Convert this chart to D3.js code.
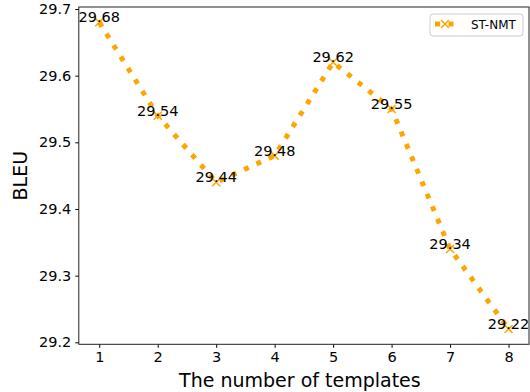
<!DOCTYPE html>
<html>
<head>
<meta charset="utf-8">
<script src="https://cdn.jsdelivr.net/npm/d3@7"></script>
<style>
  body { margin: 0; background: #fff; }
  #chart { width: 530px; height: 392px; }
  text { font-family: "DejaVu Sans", sans-serif; fill: #000; }
</style>
</head>
<body>
<div id="chart"></div>
<script>
// data
const templates = [1, 2, 3, 4, 5, 6, 7, 8];
const bleu = [29.68, 29.54, 29.44, 29.48, 29.62, 29.55, 29.34, 29.22];
const yTicks = [29.2, 29.3, 29.4, 29.5, 29.6, 29.7];
const seriesName = "ST-NMT";
const color = "#FFA500";

const width = 530;
const height = 392;
const plot = { left: 78.8, right: 529, top: 7, bottom: 344.3 };

let data = templates.map((t, i) => [t, bleu[i]]);

//Create scale functions
let xScale = d3.scaleLinear().domain([0.65, 8.35]).range([plot.left, plot.right]);
let yScale = d3.scaleLinear().domain([29.197, 29.703]).range([plot.bottom, plot.top]);

let svg = d3
  .select("#chart")
  .append("svg")
  .attr("width", width)
  .attr("height", height);

//Define X axis
let xAxis = d3
  .axisBottom(xScale)
  .tickValues(templates)
  .tickSize(3.5)
  .tickSizeOuter(0)
  .tickPadding(4)
  .tickFormat(d3.format("d"));

//Define Y axis
let yAxis = d3
  .axisLeft(yScale)
  .tickValues(yTicks)
  .tickSize(3.5)
  .tickSizeOuter(0)
  .tickPadding(4)
  .tickFormat(d3.format(".1f"));

//Create X axis
let gx = svg
  .append("g")
  .attr("transform", "translate(0," + plot.bottom + ")")
  .call(xAxis);
gx.select(".domain").remove();
gx.selectAll("text").style("font-size", "14.5px").style("font-family", "DejaVu Sans");
gx.selectAll("line").attr("stroke", "#000");

//Create Y axis
let gy = svg
  .append("g")
  .attr("transform", "translate(" + plot.left + ",0)")
  .call(yAxis);
gy.select(".domain").remove();
gy.selectAll("text").style("font-size", "14.5px").style("font-family", "DejaVu Sans");
gy.selectAll("line").attr("stroke", "#000");

// frame
svg
  .append("rect")
  .attr("x", plot.left)
  .attr("y", plot.top)
  .attr("width", plot.right - plot.left)
  .attr("height", plot.bottom - plot.top)
  .attr("fill", "none")
  .attr("stroke", "#222")
  .attr("stroke-width", 1);

// axis labels
svg
  .append("text")
  .attr("x", (plot.left + plot.right) / 2 - 4)
  .attr("y", 387)
  .attr("text-anchor", "middle")
  .style("font-size", "19px")
  .text("The number of templates");
svg
  .append("text")
  .attr("transform", "translate(27," + (plot.top + plot.bottom) / 2 + ") rotate(-90)")
  .attr("text-anchor", "middle")
  .style("font-size", "19px")
  .text("BLEU");

// dotted line
let line = d3
  .line()
  .x((d) => xScale(d[0]))
  .y((d) => yScale(d[1]));

svg
  .append("path")
  .datum(data)
  .attr("d", line)
  .attr("fill", "none")
  .attr("stroke", color)
  .attr("stroke-width", 5)
  .attr("stroke-dasharray", "5,8.5");

// x markers
let markG = svg
  .selectAll("g.mark")
  .data(data)
  .enter()
  .append("g")
  .attr("class", "mark")
  .attr("transform", (d) => `translate(${xScale(d[0])}, ${yScale(d[1])})`);

markG
  .append("path")
  .attr("d", "M-4,-4L4,4M-4,4L4,-4")
  .attr("stroke", color)
  .attr("stroke-width", 1.5);

// value labels
markG
  .append("text")
  .attr("text-anchor", "middle")
  .style("font-size", "14.5px")
  .text((d) => d3.format(".2f")(d[1]));

// legend
let legend = svg.append("g").attr("transform", "translate(430,14)");
legend
  .append("rect")
  .attr("width", 93)
  .attr("height", 22)
  .attr("rx", 3)
  .attr("fill", "#fff")
  .attr("fill-opacity", 0.8)
  .attr("stroke", "#ccc");
legend
  .append("line")
  .attr("x1", 5)
  .attr("x2", 25)
  .attr("y1", 10)
  .attr("y2", 10)
  .attr("stroke", color)
  .attr("stroke-width", 5)
  .attr("stroke-dasharray", "5,8.5");
legend
  .append("path")
  .attr("d", "M11,6L19,14M11,14L19,6")
  .attr("stroke", color)
  .attr("stroke-width", 1.5);
legend
  .append("text")
  .attr("x", 41)
  .attr("y", 14.5)
  .style("font-size", "12px")
  .text(seriesName);
</script>
</body>
</html>
